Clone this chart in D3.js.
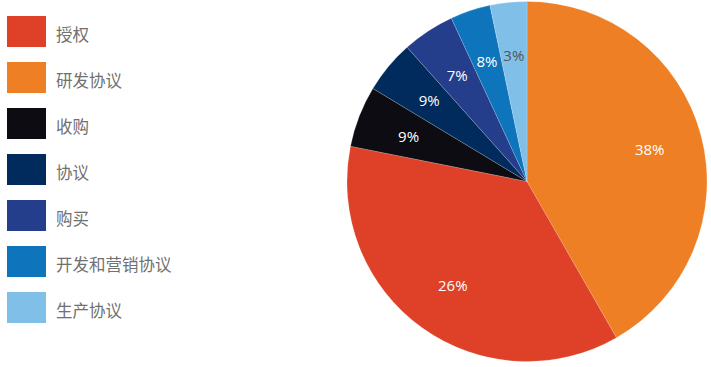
<!DOCTYPE html>
<html><head><meta charset="utf-8">
<script src="https://cdn.jsdelivr.net/npm/d3@7"></script>
<style>html,body{margin:0;padding:0;background:#fff;}svg{display:block;}</style>
</head><body>
<svg id="c" width="711" height="367"></svg>
<script>
// Legend order
const categories = ["授权","研发协议","收购","协议","购买","开发和营销协议","生产协议"];
const colors = ["#DE4127","#EE7F24","#0C0C12","#002B5C","#253E8C","#0E74BC","#80BFE8"];
// Pie order (clockwise from 12 o'clock)
const pieCategories = ["研发协议","授权","收购","协议","购买","开发和营销协议","生产协议"];
const pieValues = [41.7, 36.4, 5.5, 4.75, 4.7, 3.6, 3.3];
const pieLabels = ["38%","26%","9%","9%","7%","8%","3%"];
const labelColors = ["#fff","#fff","#fff","#fff","#fff","#fff","#555"];

const svg = d3.select("#c");
const color = d3.scaleOrdinal().domain(categories).range(colors);

// Legend
const lg = svg.append("g");
const y = d3.scalePoint().domain(categories).range([16, 292]);
lg.selectAll("rect").data(categories).join("rect")
  .attr("x", 7).attr("y", d => y(d)).attr("width", 39).attr("height", 31)
  .attr("fill", d => color(d));
lg.selectAll("text").data(categories).join("text")
  .attr("x", 56).attr("y", d => y(d) + 18)
  .attr("dominant-baseline", "central")
  .attr("font-family", "'Noto Sans CJK SC', sans-serif")
  .attr("font-size", 16.5).attr("fill", "#707070")
  .text(d => d);

// Pie
const cx = 527, cy = 181.5, R = 180;
const pie = d3.pie().sort(null).value(d => d.v);
const data = pieCategories.map((c, i) => ({c, v: pieValues[i], l: pieLabels[i], lc: labelColors[i]}));
const arcs = pie(data);
const arc = d3.arc().innerRadius(0).outerRadius(R);
const labelArc = d3.arc().innerRadius(127).outerRadius(127);
const g = svg.append("g").attr("transform", `translate(${cx},${cy})`);
g.selectAll("path").data(arcs).join("path")
  .attr("d", arc).attr("fill", d => color(d.data.c))
  .attr("stroke", "rgba(255,255,255,0.35)").attr("stroke-width", 0.5);
g.selectAll("text").data(arcs).join("text")
  .attr("transform", d => `translate(${labelArc.centroid(d)})`)
  .attr("text-anchor", "middle").attr("dominant-baseline", "central")
  .attr("font-family", "'Open Sans', sans-serif").attr("font-size", 15)
  .attr("fill", d => d.data.lc)
  .text(d => d.data.l);
</script>
</body></html>
